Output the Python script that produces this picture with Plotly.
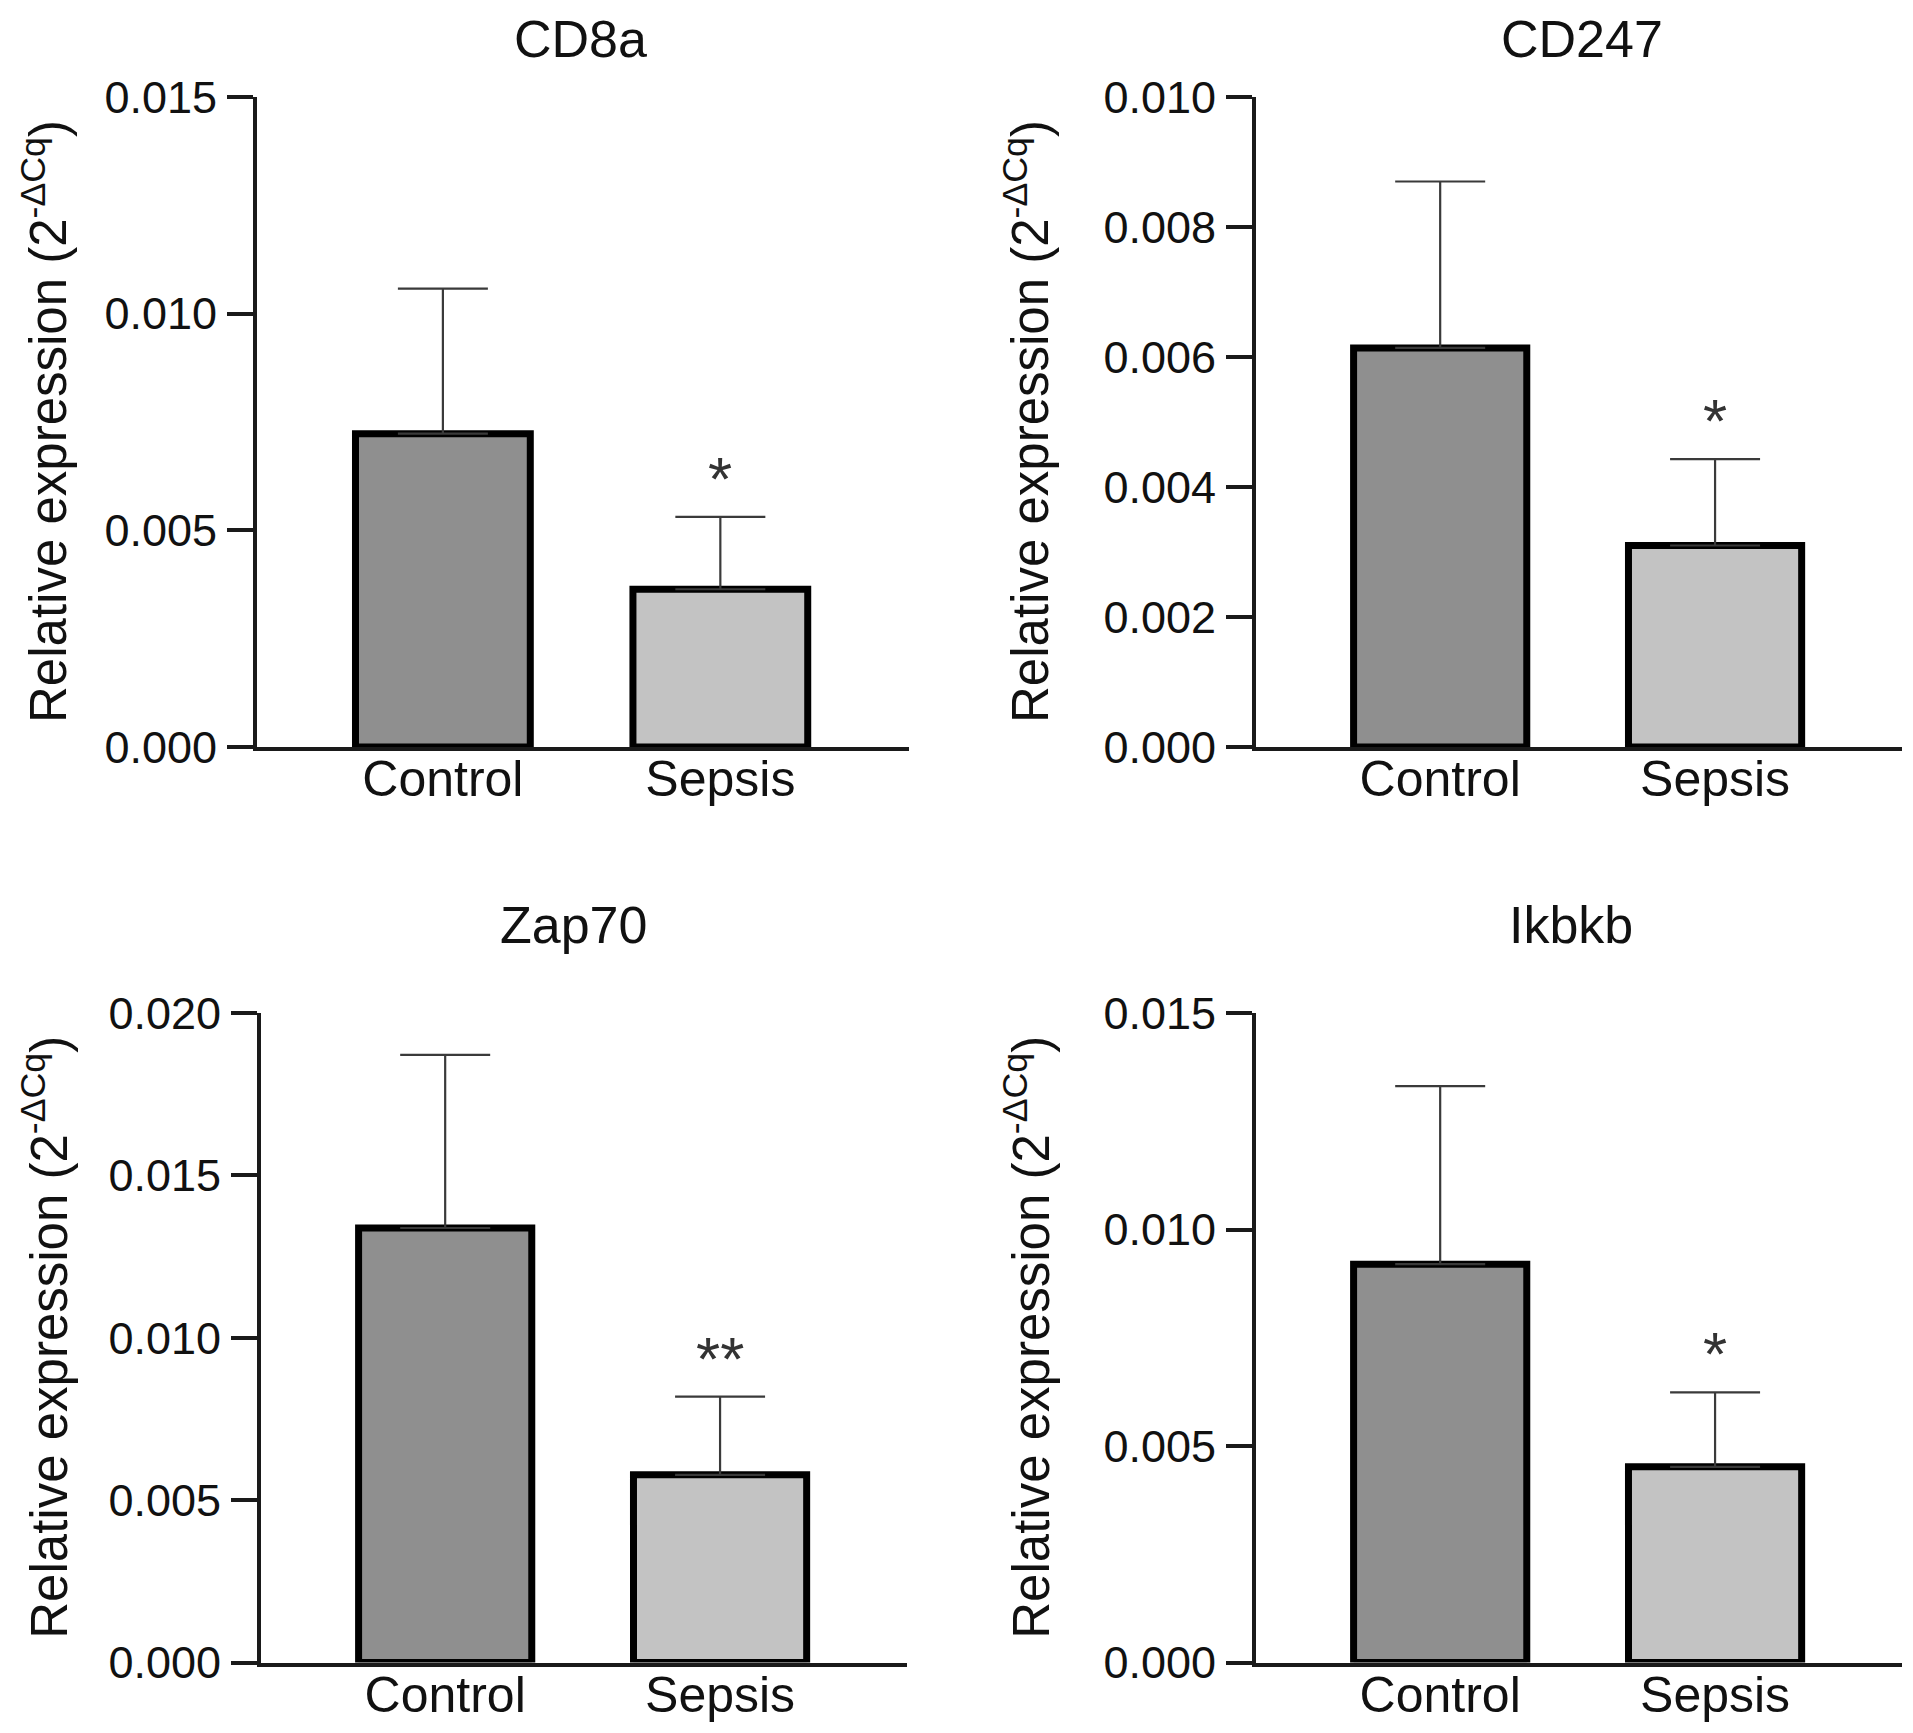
import plotly.graph_objects as go

# ---- data ----
genes = ["CD8a", "CD247", "Zap70", "Ikbkb"]
groups = ["Control", "Sepsis"]
means_cd8a = [0.00723, 0.00364]
means_cd247 = [0.00614, 0.00310]
means_zap70 = [0.01338, 0.00578]
means_ikbkb = [0.00920, 0.00452]
sem_cd8a = [0.00335, 0.00167]
sem_cd247 = [0.00256, 0.00133]
sem_zap70 = [0.00533, 0.00241]
sem_ikbkb = [0.00411, 0.00172]
y_max = [0.015, 0.010, 0.020, 0.015]
y_dtick = [0.005, 0.002, 0.005, 0.005]
signif = ["*", "*", "**", "*"]
y_title = "Relative expression (2<sup>-ΔCq</sup>)"

means = [means_cd8a, means_cd247, means_zap70, means_ikbkb]
sems = [sem_cd8a, sem_cd247, sem_zap70, sem_ikbkb]

# ---- layout geometry ----
# target positions are given in screen pixels of the 1913 x 1733 window;
# the page body has a small margin, so the figure is shrunk and shifted.
SW, SH = 1913, 1733
OFFX, OFFY = 4, 8
W, H = SW - 16, SH - 16


def px(x):
    return (x - OFFX) / W


def py(y):
    return 1 - (y - OFFY) / H


FONT = "Arial, Liberation Sans, sans-serif"
TXT = "#111111"
bar_colors = ["#8f8f8f", "#c3c3c3"]
x_domains = [[px(253), px(905)], [px(1252), px(1898)],
             [px(257), px(903)], [px(1252), px(1898)]]
top_row = [py(747), py(97)]
bot_row = [py(1662.5), py(1013)]
y_domains = [top_row, top_row, bot_row, bot_row]
ytitle_x = [px(41), px(1023), px(41), px(1023)]
title_x = [px(576), px(1578), px(569), px(1567)]
title_y = [1.0, 1.0, py(925), py(925)]
title_anchor = ["top", "top", "middle", "middle"]

fig = go.Figure()
annotations = []
for i, g in enumerate(genes):
    sfx = "" if i == 0 else str(i + 1)
    fig.add_trace(go.Bar(
        x=groups, y=means[i],
        xaxis="x" + sfx, yaxis="y" + sfx,
        width=0.63,
        marker=dict(color=bar_colors, line=dict(color="#000000", width=7)),
        error_y=dict(type="data", array=sems[i], arrayminus=[0, 0],
                     symmetric=False, color="#3a3a3a", thickness=2.2, width=45),
        showlegend=False, hoverinfo="skip",
    ))
    fig.update_layout(**{
        "xaxis" + sfx: dict(
            domain=x_domains[i], anchor="y" + sfx, range=[-0.67, 1.68],
            showline=True, linecolor="#1a1a1a", linewidth=4, ticks="",
            showgrid=False, zeroline=False, fixedrange=True, automargin=False,
            tickfont=dict(family=FONT, size=50, color=TXT),
            ticklabelstandoff=-15,
        ),
        "yaxis" + sfx: dict(
            domain=y_domains[i], anchor="x" + sfx, range=[0, y_max[i]],
            tick0=0, dtick=y_dtick[i], tickformat=".3f",
            showline=True, linecolor="#1a1a1a", linewidth=4,
            ticks="outside", ticklen=26, tickwidth=4, tickcolor="#1a1a1a",
            showgrid=False, zeroline=False, fixedrange=True, automargin=False,
            tickfont=dict(family=FONT, size=45, color=TXT),
            ticklabelstandoff=1,
        ),
    })
    yd = y_domains[i]
    # panel title
    annotations.append(dict(
        text=g, xref="paper", yref="paper",
        x=title_x[i], y=title_y[i],
        xanchor="center", yanchor=title_anchor[i], showarrow=False,
        font=dict(family=FONT, size=52, color=TXT),
    ))
    # y-axis title
    annotations.append(dict(
        text=y_title, xref="paper", yref="paper",
        x=ytitle_x[i], y=(yd[0] + yd[1]) / 2, textangle=-90,
        xanchor="center", yanchor="middle", showarrow=False,
        font=dict(family=FONT, size=51, color=TXT),
    ))
    # significance stars
    annotations.append(dict(
        text=signif[i], xref="x" + sfx, yref="y" + sfx,
        x=groups[1], y=means[i][1] + sems[i][1],
        xanchor="center", yanchor="bottom", yshift=2, showarrow=False,
        font=dict(family=FONT, size=62, color="#333333"),
    ))

fig.update_layout(
    width=W, height=H,
    margin=dict(l=0, r=0, t=0, b=0, pad=0, autoexpand=False),
    paper_bgcolor="white", plot_bgcolor="white",
    annotations=annotations,
)

fig.write_html("out.html")
